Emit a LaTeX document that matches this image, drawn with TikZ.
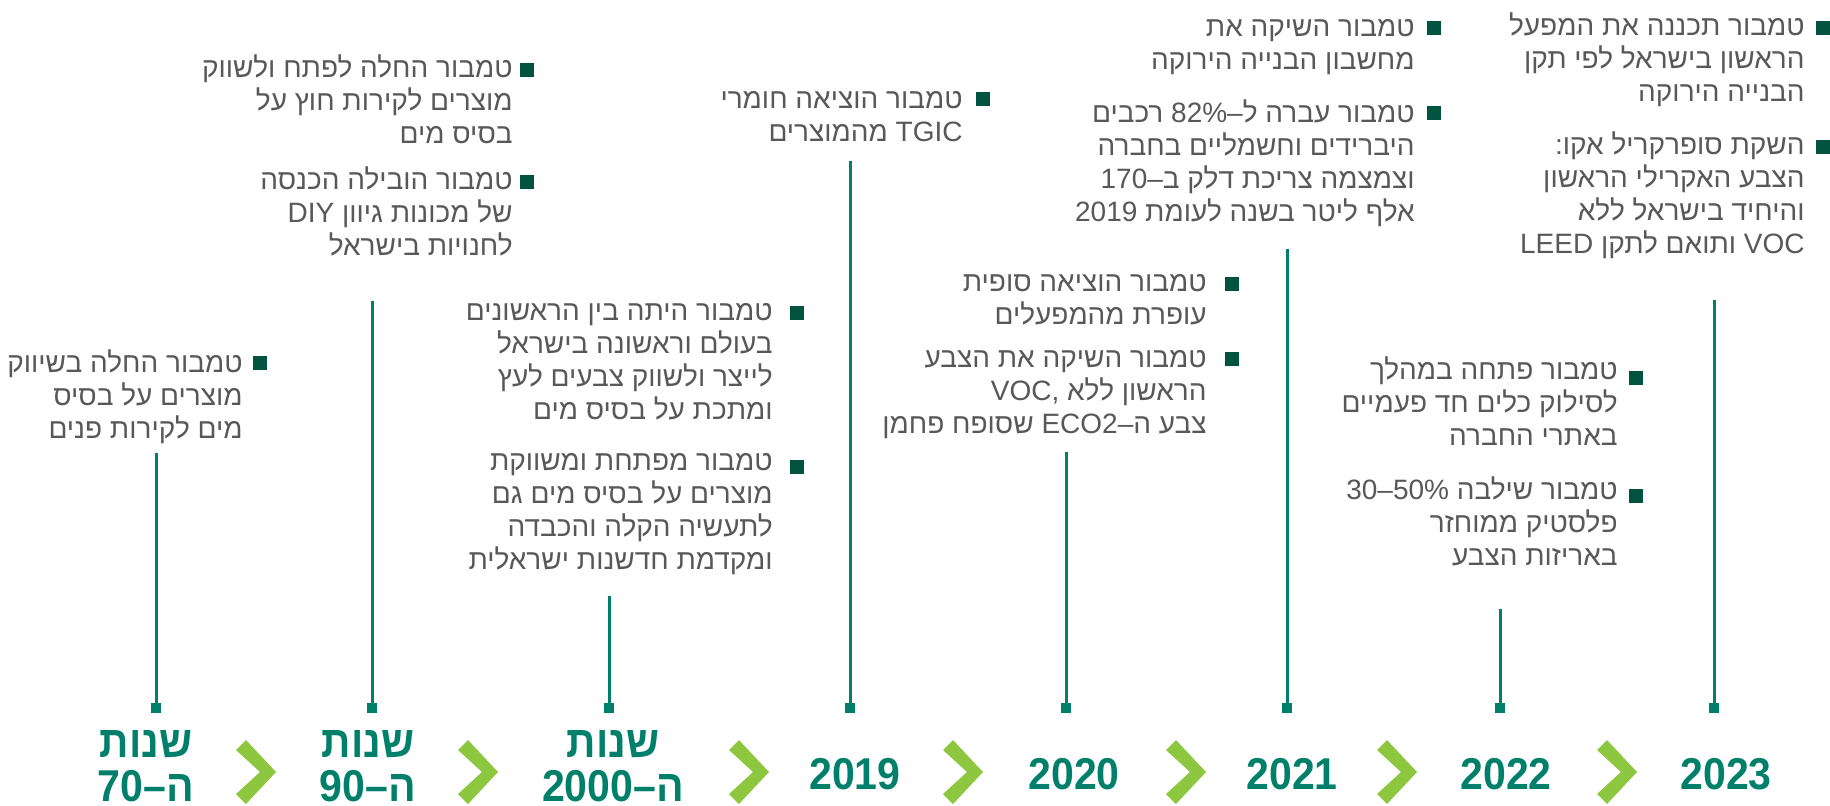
\documentclass[tikz,border=0pt]{standalone}
\usepackage{fontspec}
\TeXXeTstate=1
\newfontfamily\hebfont[Script=Hebrew]{Liberation Sans}
\newfontfamily\yrfont[Script=Hebrew]{Liberation Sans}
\newfontfamily\latfont{Liberation Sans}
\newcommand\lr[1]{\beginL{\latfont #1}\endL{}}
\definecolor{teal1}{HTML}{00806A}
\definecolor{bulgreen}{HTML}{00533F}
\definecolor{chevgreen}{HTML}{8DC63F}
\definecolor{txtgray}{HTML}{585858}
\newcommand\cond[1]{\scalebox{0.92}[1]{#1}}
\tikzset{
  txt/.style={anchor=north east, inner sep=0pt, align=right, text=txtgray,
    font=\hebfont\fontsize{14}{16.4}\selectfont},
  bul/.style={rectangle, fill=bulgreen, minimum size=7pt, inner sep=0pt},
  stem/.style={draw=teal1, line width=1.5pt},
  foot/.style={rectangle, fill=teal1, minimum width=5pt, minimum height=5pt, inner sep=0pt},
  yr/.style={inner sep=0pt, text=teal1, font=\yrfont\bfseries\fontsize{22.3}{22}\selectfont},
  chev/.pic={\fill[chevgreen] (-40,-22) -- (-30,-32) -- (0,0) -- (-30,32) -- (-40,22) -- (-16,0) -- cycle;}
}
\begin{document}
\begin{tikzpicture}[x=0.5pt,y=-0.5pt]
\useasboundingbox (0,0) rectangle (1830,805);

% stems and feet
\foreach \n/\x/\t in {a/156/453, b/372/301, c/609/596, d/850/161, e/1066/452, f/1287/249, g/1500/609, h/1714/300}{
  \coordinate (top\n) at (\x,\t);
  \node[foot] (foot\n) at (\x,708) {};
  \draw[stem] (top\n) -- (foot\n.center);
}

% chevrons
\foreach \tx in {276,498,769,983,1206,1417,1637}{
  \pic at (\tx,772) {chev};
}

% year labels
\node[yr, anchor=north, align=center] (y70) at (146,730)
  {\cond{\beginR שנות\endR}\\\cond{\beginR ה–\beginL 70\endL\endR}};
\node[yr, anchor=north, align=center] (y90) at (368,730)
  {\cond{\beginR שנות\endR}\\\cond{\beginR ה–\beginL 90\endL\endR}};
\node[yr, anchor=north, align=center] (y2000) at (613,730)
  {\cond{\beginR שנות\endR}\\\cond{\beginR ה–\beginL 2000\endL\endR}};
\node[yr, anchor=base] (y2019) at (855,789) {\cond{2019}};
\node[yr, anchor=base] (y2020) at (1074,789) {\cond{2020}};
\node[yr, anchor=base] (y2021) at (1292,789) {\cond{2021}};
\node[yr, anchor=base] (y2022) at (1506,789) {\cond{2022}};
\node[yr, anchor=base] (y2023) at (1726,789) {\cond{2023}};

% bullets
\node[bul] (ba1) at (260,363) {};
\node[bul] (bb1) at (527,70) {};
\node[bul] (bb2) at (527,182) {};
\node[bul] (bc1) at (797,313) {};
\node[bul] (bc2) at (797,467) {};
\node[bul] (bd1) at (983,99) {};
\node[bul] (be1) at (1232,284) {};
\node[bul] (be2) at (1232,359) {};
\node[bul] (bf1) at (1434,28) {};
\node[bul] (bf2) at (1434,113) {};
\node[bul] (bg1) at (1636,378) {};
\node[bul] (bg2) at (1636,496) {};
\node[bul] (bh1) at (1823,28) {};
\node[bul] (bh2) at (1823,147) {};

% texts
\node[txt] (ta1) at (243,349.5) {\strut\beginR טמבור החלה בשיווק\endR\\
  \beginR מוצרים על בסיס\endR\\
  \beginR מים לקירות פנים\endR};

\node[txt] (tb1) at (513,54.5) {\strut\beginR טמבור החלה לפתח ולשווק\endR\\
  \beginR מוצרים לקירות חוץ על\endR\\
  \beginR בסיס מים\endR};
\node[txt] (tb2) at (513,166.5) {\strut\beginR טמבור הובילה הכנסה\endR\\
  \beginR של מכונות גיוון \lr{DIY}\endR\\
  \beginR לחנויות בישראל\endR};

\node[txt] (tc1) at (773,297.5) {\strut\beginR טמבור היתה בין הראשונים\endR\\
  \beginR בעולם וראשונה בישראל\endR\\
  \beginR לייצר ולשווק צבעים לעץ\endR\\
  \beginR ומתכת על בסיס מים\endR};
\node[txt] (tc2) at (773,447.5) {\strut\beginR טמבור מפתחת ומשווקת\endR\\
  \beginR מוצרים על בסיס מים גם\endR\\
  \beginR לתעשיה הקלה והכבדה\endR\\
  \beginR ומקדמת חדשנות ישראלית\endR};

\node[txt] (td1) at (963,85.5) {\strut\beginR טמבור הוציאה חומרי\endR\\
  \beginR \lr{TGIC} מהמוצרים\endR};

\node[txt] (te1) at (1207,268.5) {\strut\beginR טמבור הוציאה סופית\endR\\
  \beginR עופרת מהמפעלים\endR};
\node[txt] (te2) at (1207,344.5) {\strut\beginR טמבור השיקה את הצבע\endR\\
  \beginR הראשון ללא \lr{VOC,}\endR\\
  \beginR צבע ה–\lr{ECO2} שסופח פחמן\endR};

\node[txt] (tf1) at (1415,13.5) {\strut\beginR טמבור השיקה את\endR\\
  \beginR מחשבון הבנייה הירוקה\endR};
\node[txt] (tf2) at (1415,99.5) {\strut\beginR טמבור עברה ל–\lr{82\%} רכבים\endR\\
  \beginR היברידים וחשמליים בחברה\endR\\
  \beginR וצמצמה צריכת דלק ב–\lr{170}\endR\\
  \beginR אלף ליטר בשנה לעומת \lr{2019}\endR};

\node[txt] (tg1) at (1618,356.5) {\strut\beginR טמבור פתחה במהלך\endR\\
  \beginR לסילוק כלים חד פעמיים\endR\\
  \beginR באתרי החברה\endR};
\node[txt] (tg2) at (1618,476.5) {\strut\beginR טמבור שילבה \lr{30–50\%}\endR\\
  \beginR פלסטיק ממוחזר\endR\\
  \beginR באריזות הצבע\endR};

\node[txt] (th1) at (1805,12.5) {\strut\beginR טמבור תכננה את המפעל\endR\\
  \beginR הראשון בישראל לפי תקן\endR\\
  \beginR הבנייה הירוקה\endR};
\node[txt] (th2) at (1805,131.5) {\strut\beginR השקת סופרקריל אקו:\endR\\
  \beginR הצבע האקרילי הראשון\endR\\
  \beginR והיחיד בישראל ללא\endR\\
  \beginR \lr{VOC} ותואם לתקן \lr{LEED}\endR};
\end{tikzpicture}
\end{document}
